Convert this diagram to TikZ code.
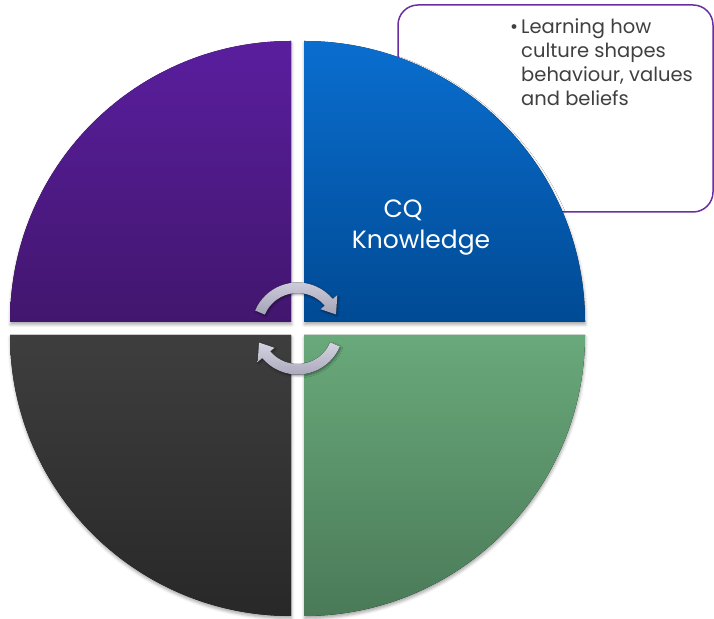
\documentclass[tikz,border=0pt]{standalone}
\usepackage{fontspec}
\setmainfont{Poppins}
\usetikzlibrary{calc,shadows.blur}

\definecolor{purpleTop}{HTML}{5A1E9E}
\definecolor{purpleBottom}{HTML}{42166E}
\definecolor{blueTop}{HTML}{0A6ECF}
\definecolor{blueBottom}{HTML}{004A94}
\definecolor{greyTop}{HTML}{3E3E3E}
\definecolor{greyBottom}{HTML}{282828}
\definecolor{greenTop}{HTML}{69A97A}
\definecolor{greenBottom}{HTML}{4A7A58}
\definecolor{arrowTop}{HTML}{D4D3E0}
\definecolor{arrowBottom}{HTML}{A4A2B6}
\definecolor{noteLine}{HTML}{6A2EA2}
\definecolor{noteText}{HTML}{404040}

\tikzset{
  quarter/.style={blur shadow={shadow xshift=0.5pt, shadow yshift=-2.5pt, shadow blur radius=3pt, shadow opacity=35}},
  cyclearrow/.style={top color=arrowTop, bottom color=arrowBottom, blur shadow={shadow xshift=1pt, shadow yshift=-1.5pt, shadow blur radius=2pt, shadow opacity=40}},
  callout/.style={draw=noteLine, line width=1.5pt, rounded corners=20pt, fill=white}
}

\begin{document}
\begin{tikzpicture}[x=1pt, y=1pt]
        % Radius of each quarter and half the gap between quarters
        \def\r{281}
        \def\g{6.5}

        % Inner and outer radius of the turning arrows
        \def\ra{35.5}
        \def\rb{46}

        \useasboundingbox (0,0) rectangle (714,618);
        \coordinate (center) at (297.5,289.5);

        % Draw the note box, behind the circle
        \node[callout, minimum width=315pt, minimum height=207pt] (note) at (555.5,509.5) {};

        % Draw the four quarters
        \foreach \ang/\dx/\dy/\topc/\botc in {90/-1/1/purpleTop/purpleBottom, 0/1/1/blueTop/blueBottom, 180/-1/-1/greyTop/greyBottom, 270/1/-1/greenTop/greenBottom} {
          \fill[quarter, top color=\topc, bottom color=\botc] ([shift={(\dx*\g,\dy*\g)}]center) -- ++(\ang:\r) arc[start angle=\ang, delta angle=90, radius=\r] -- cycle;
        }

        % Draw the two turning arrows, the second one rotated
        \foreach \rot in {0,180} {
          \fill[cyclearrow] ($(center)+(157+\rot:\rb)$) arc[start angle=157+\rot, end angle=40+\rot, radius=\rb]
            -- ($(center)+(40+\rot:52)$) -- ($(center)+(20+\rot:41)$) -- ($(center)+(40+\rot:30)$)
            -- ($(center)+(40+\rot:\ra)$) arc[start angle=40+\rot, end angle=157+\rot, radius=\ra] -- cycle;
        }

        % Write the labels
        \node[font=\fontsize{25}{31}\selectfont, text=white, align=center] (cq) at (421,390) {CQ\hspace*{36pt}\\Knowledge};
        \node[font=\fontsize{19.5}{24}\selectfont, text=noteText, anchor=north west, inner sep=0pt] (points) at (510,601) {\begin{tabular}{@{}l@{\hspace{3pt}}l@{}}\textbullet & Learning how\\ & culture shapes\\ & behaviour, values\\ & and beliefs\end{tabular}};
      \end{tikzpicture}
\end{document}
